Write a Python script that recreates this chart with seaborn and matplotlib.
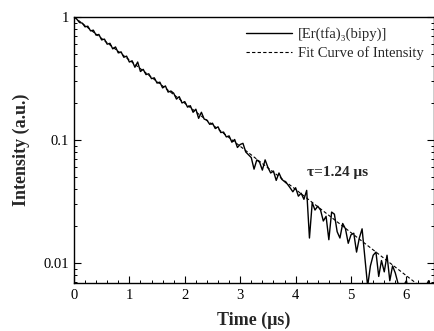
import matplotlib
matplotlib.use("Agg")
import matplotlib.pyplot as plt
import seaborn as sns
import numpy as np
import pandas as pd
from matplotlib.ticker import FixedLocator, FixedFormatter, MultipleLocator, NullFormatter

# ---- data ----
time_us = [round(0.05 * i, 2) for i in range(131)]
intensity = [
    1.00, 0.96, 0.90, 0.89, 0.83, 0.84, 0.77, 0.78, 0.71, 0.72,
    0.65, 0.66, 0.60, 0.61, 0.55, 0.57, 0.51, 0.52, 0.47, 0.48,
    0.43, 0.44, 0.39, 0.43, 0.36, 0.375, 0.34, 0.345, 0.315, 0.32,
    0.29, 0.295, 0.265, 0.275, 0.245, 0.25, 0.24, 0.215, 0.225, 0.20,
    0.205, 0.185, 0.19, 0.168, 0.178, 0.150, 0.168, 0.148, 0.145, 0.134,
    0.137, 0.124, 0.128, 0.115, 0.116, 0.106, 0.108, 0.096, 0.101, 0.087,
    0.092, 0.094, 0.080, 0.076, 0.072, 0.058, 0.069, 0.066, 0.057, 0.069,
    0.060, 0.054, 0.056, 0.047, 0.054, 0.048, 0.046, 0.044, 0.041, 0.038,
    0.041, 0.035, 0.037, 0.033, 0.039, 0.016, 0.031, 0.027, 0.029, 0.027,
    0.022, 0.024, 0.0155, 0.026, 0.025, 0.018, 0.016, 0.021, 0.019, 0.0145,
    0.017, 0.0175, 0.0123, 0.016, 0.019, 0.011, 0.0065, 0.0095, 0.0116, 0.0123,
    0.0078, 0.0105, 0.0085, 0.0116, 0.0072, 0.0095, 0.0083, 0.0068, 0.0060, 0.0066,
    0.0072, 0.0055, 0.0062, 0.0050, 0.0058, 0.0054, 0.0061, 0.0065, 0.0072, 0.0058,
    0.0060,
]
fit_time_us = [0, 1, 2, 3, 4, 5, 6, 6.5]
fit_intensity = [1.0, 0.446, 0.199, 0.089, 0.0397, 0.0177, 0.0079, 0.0053]

y_ticks = [1, 0.1, 0.01]
y_tick_labels = ["1", "0.1", "0.01"]
x_ticks = [0, 1, 2, 3, 4, 5, 6]

label_data = "[Er(tfa)\u2083(bipy)]"
label_fit = "Fit Curve of Intensity"

# ---- style ----
sns.set_style("ticks")
plt.rcParams["font.family"] = ["Liberation Serif", "DejaVu Serif"]
plt.rcParams["mathtext.fontset"] = "stix"

fig = plt.figure(figsize=(4.35, 3.31), dpi=100)
ax = fig.add_axes([0.170, 0.145, 0.828, 0.804])

df = pd.DataFrame({"t": time_us, "I": intensity})
dfit = pd.DataFrame({"t": fit_time_us, "I": fit_intensity})

sns.lineplot(data=df, x="t", y="I", ax=ax, color="black", linewidth=1.0,
             label=label_data, estimator=None, sort=False)
sns.lineplot(data=dfit, x="t", y="I", ax=ax, color="black", linewidth=0.8,
             linestyle=(0, (3, 2)), label=label_fit, estimator=None, sort=False)

ax.set_yscale("log")
ax.set_xlim(0, 6.5)
ax.set_ylim(0.0069, 1.0)

ax.yaxis.set_major_locator(FixedLocator(y_ticks))
ax.yaxis.set_major_formatter(FixedFormatter(y_tick_labels))
ax.yaxis.set_minor_formatter(NullFormatter())
ax.xaxis.set_major_locator(FixedLocator(x_ticks))
ax.xaxis.set_minor_locator(MultipleLocator(0.2))

ax.tick_params(axis="both", which="both", direction="in", top=False, right=True,
               labelsize=10.5, colors="black")
ax.tick_params(which="major", length=5, width=0.8)
ax.tick_params(which="minor", length=2.5, width=0.7)
ax.tick_params(axis="x", pad=4)

for s in ax.spines.values():
    s.set_visible(True)
    s.set_linewidth(1.0)
    s.set_color("black")

ax.set_xlabel("Time (\u03bcs)", fontsize=13, fontweight="bold", labelpad=7)
ax.set_ylabel("Intensity (a.u.)", fontsize=13, fontweight="bold", labelpad=10)

ax.text(4.75, 0.054, "\u03c4=1.24 \u03bcs", fontsize=11, fontweight="bold",
        ha="center", va="center")

leg = ax.legend(loc="upper right", frameon=False, fontsize=10.5, handlelength=3.2,
                handletextpad=0.4, borderaxespad=0.3, labelspacing=0.35)

fig.savefig("out.png", dpi=100)
